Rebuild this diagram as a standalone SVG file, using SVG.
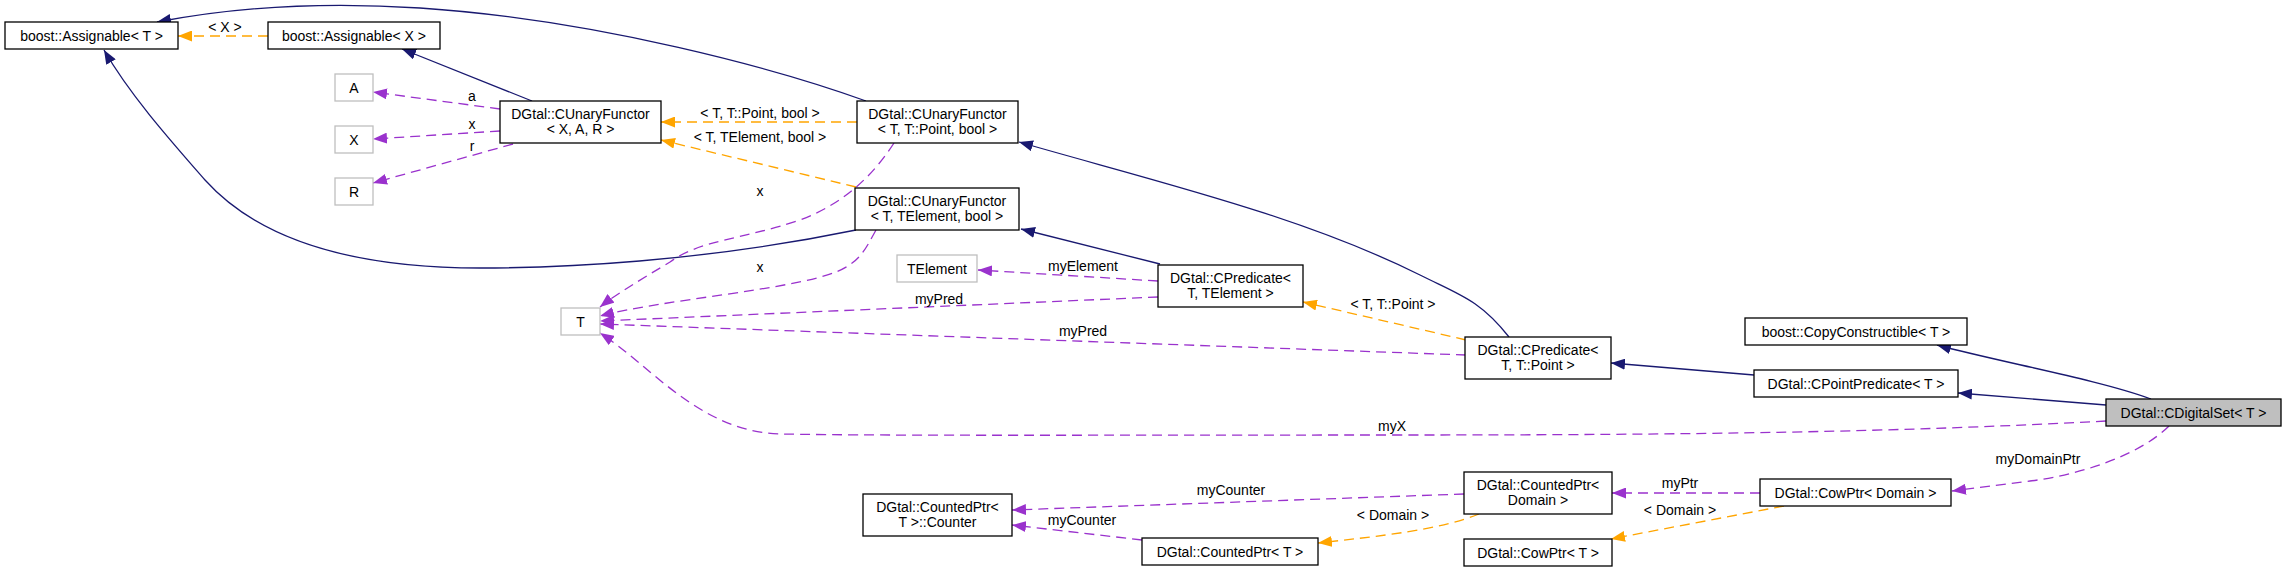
<svg xmlns="http://www.w3.org/2000/svg" width="2286" height="572" viewBox="0 0 2286 572">
<style>
.n rect{fill:#fff;stroke:#000;stroke-width:1.3}
.g rect{fill:#fff;stroke:#bfbfbf;stroke-width:1.3}
.cur rect{fill:#bfbfbf;stroke:#000;stroke-width:1.3}
text{font-family:"Liberation Sans",Arial,sans-serif;font-size:14px;fill:#000;text-anchor:middle}
.e{fill:none;stroke-width:1.3}
.inh{stroke:#191970;marker-end:url(#an)}
.use{stroke:#9a32cd;stroke-dasharray:10,6;marker-end:url(#ap)}
.tpl{stroke:#ffa500;stroke-dasharray:10,6;marker-end:url(#ao)}
</style>
<defs>
<marker id="an" viewBox="0 0 14 11" refX="14" refY="5.5" markerWidth="14" markerHeight="11" markerUnits="userSpaceOnUse" orient="auto"><path d="M0,0L14,5.5L0,11z" fill="#191970"/></marker>
<marker id="ap" viewBox="0 0 14 11" refX="14" refY="5.5" markerWidth="14" markerHeight="11" markerUnits="userSpaceOnUse" orient="auto"><path d="M0,0L14,5.5L0,11z" fill="#9a32cd"/></marker>
<marker id="ao" viewBox="0 0 14 11" refX="14" refY="5.5" markerWidth="14" markerHeight="11" markerUnits="userSpaceOnUse" orient="auto"><path d="M0,0L14,5.5L0,11z" fill="#ffa500"/></marker>
</defs>
<rect width="2286" height="572" fill="#fff"/>
<g id="edges">
<path class="e inh" d="M866,101 C780,70 600,20 420,8 C330,2 240,6 157,22"/>
<path class="e inh" d="M856,230 C700,262 560,268 480,268 C330,268 250,230 205,180 C170,140 130,95 104,50"/>
<path class="e inh" d="M532,101 L402,49"/>
<path class="e tpl" d="M268,36 L178,36"/>
<text x="225" y="32">&lt; X &gt;</text>
<path class="e use" d="M500,109 L373,92"/>
<text x="472" y="101">a</text>
<path class="e use" d="M500,131 L373,139"/>
<text x="472" y="129">x</text>
<path class="e use" d="M513,144 L373,183"/>
<text x="472" y="151">r</text>
<path class="e tpl" d="M857,122 L661,122"/>
<text x="760" y="118">&lt; T, T::Point, bool &gt;</text>
<path class="e tpl" d="M856,187 L661,140"/>
<text x="760" y="142">&lt; T, TElement, bool &gt;</text>
<path class="e use" d="M894,143 C870,180 840,205 800,220 C740,240 700,240 670,262 C640,280 615,295 600,307"/>
<text x="760" y="196">x</text>
<path class="e use" d="M876,230 C865,250 860,262 836,272 C790,290 660,300 600,316"/>
<text x="760" y="272">x</text>
<path class="e use" d="M1158,297 L600,321"/>
<text x="939" y="304">myPred</text>
<path class="e use" d="M1466,355 L600,324"/>
<text x="1083" y="336">myPred</text>
<path class="e use" d="M2106,421 C1900,432 1700,435 1400,435 C1100,435 900,436 780,434 C700,432 650,365 600,333"/>
<text x="1392" y="431">myX</text>
<path class="e use" d="M1158,281 L978,270"/>
<text x="1083" y="271">myElement</text>
<path class="e inh" d="M1160,264 L1021,229"/>
<path class="e inh" d="M1509,337 C1480,300 1460,295 1420,275 C1300,215 1150,180 1019,142"/>
<path class="e tpl" d="M1466,340 L1303,302"/>
<text x="1393" y="309">&lt; T, T::Point &gt;</text>
<path class="e inh" d="M1754,375 L1611,363"/>
<path class="e inh" d="M2106,405 L1958,393"/>
<path class="e inh" d="M2151,399 C2100,380 2000,362 1937,345"/>
<path class="e use" d="M2169,426 C2140,455 2080,475 2030,481 C2000,485 1975,488 1952,491"/>
<text x="2038" y="464">myDomainPtr</text>
<path class="e use" d="M1760,493 L1612,493"/>
<text x="1680" y="488">myPtr</text>
<path class="e tpl" d="M1784,506 L1611,539"/>
<text x="1680" y="515">&lt; Domain &gt;</text>
<path class="e use" d="M1464,494 L1012,510"/>
<text x="1231" y="495">myCounter</text>
<path class="e use" d="M1142,540 L1012,525"/>
<text x="1082" y="525">myCounter</text>
<path class="e tpl" d="M1479,514 C1440,530 1380,536 1318,543"/>
<text x="1393" y="520">&lt; Domain &gt;</text>
</g>
<g id="n1" class="n"><rect x="5" y="22" width="173" height="27"/><text x="91.5" y="40.5">boost::Assignable&lt; T &gt;</text></g>
<g id="n2" class="n"><rect x="268" y="22" width="172" height="27"/><text x="354" y="40.5">boost::Assignable&lt; X &gt;</text></g>
<g id="n3" class="g"><rect x="335" y="74" width="38" height="27"/><text x="354" y="92.5">A</text></g>
<g id="n4" class="g"><rect x="335" y="126" width="38" height="27"/><text x="354" y="144.5">X</text></g>
<g id="n5" class="g"><rect x="335" y="178" width="38" height="27"/><text x="354" y="196.5">R</text></g>
<g id="n6" class="n"><rect x="500" y="101" width="161" height="42"/><text x="580.5" y="118.5">DGtal::CUnaryFunctor</text><text x="580.5" y="133.5">&lt; X, A, R &gt;</text></g>
<g id="n7" class="n"><rect x="857" y="101" width="161" height="42"/><text x="937.5" y="118.5">DGtal::CUnaryFunctor</text><text x="937.5" y="133.5">&lt; T, T::Point, bool &gt;</text></g>
<g id="n8" class="n"><rect x="855" y="188" width="164" height="42"/><text x="937" y="205.5">DGtal::CUnaryFunctor</text><text x="937" y="220.5">&lt; T, TElement, bool &gt;</text></g>
<g id="n9" class="g"><rect x="897" y="255" width="80" height="27"/><text x="937" y="273.5">TElement</text></g>
<g id="n10" class="g"><rect x="561" y="308" width="39" height="27"/><text x="580.5" y="326.5">T</text></g>
<g id="n11" class="n"><rect x="1158" y="265" width="145" height="42"/><text x="1230.5" y="282.5">DGtal::CPredicate&lt;</text><text x="1230.5" y="297.5">T, TElement &gt;</text></g>
<g id="n12" class="n"><rect x="1465" y="337" width="146" height="42"/><text x="1538" y="354.5">DGtal::CPredicate&lt;</text><text x="1538" y="369.5">T, T::Point &gt;</text></g>
<g id="n13" class="n"><rect x="1745" y="318" width="222" height="27"/><text x="1856" y="336.5">boost::CopyConstructible&lt; T &gt;</text></g>
<g id="n14" class="n"><rect x="1754" y="370" width="204" height="27"/><text x="1856" y="388.5">DGtal::CPointPredicate&lt; T &gt;</text></g>
<g id="n15" class="cur"><rect x="2106" y="399" width="175" height="27"/><text x="2193.5" y="417.5">DGtal::CDigitalSet&lt; T &gt;</text></g>
<g id="n16" class="n"><rect x="863" y="494" width="149" height="42"/><text x="937.5" y="511.5">DGtal::CountedPtr&lt;</text><text x="937.5" y="526.5">T &gt;::Counter</text></g>
<g id="n17" class="n"><rect x="1464" y="472" width="148" height="42"/><text x="1538" y="489.5">DGtal::CountedPtr&lt;</text><text x="1538" y="504.5">Domain &gt;</text></g>
<g id="n18" class="n"><rect x="1142" y="538" width="176" height="27"/><text x="1230" y="556.5">DGtal::CountedPtr&lt; T &gt;</text></g>
<g id="n19" class="n"><rect x="1760" y="479" width="191" height="27"/><text x="1855.5" y="497.5">DGtal::CowPtr&lt; Domain &gt;</text></g>
<g id="n20" class="n"><rect x="1464" y="539" width="148" height="27"/><text x="1538" y="557.5">DGtal::CowPtr&lt; T &gt;</text></g>
</svg>
